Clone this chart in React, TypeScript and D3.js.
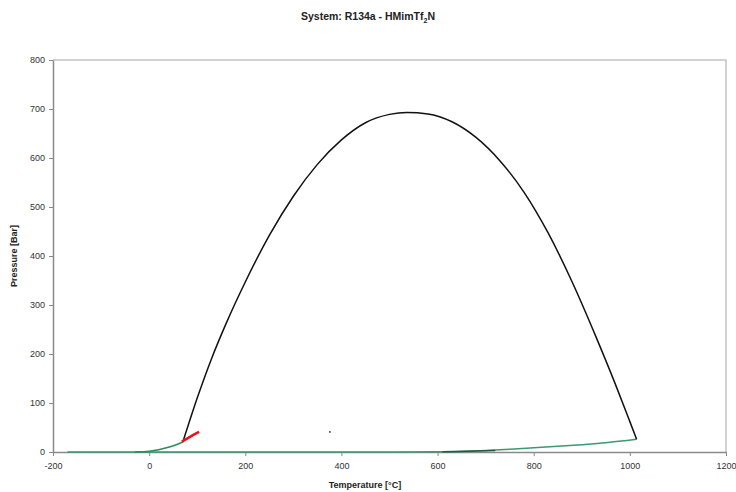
import React, { useEffect, useRef } from 'react';
import { select, scaleLinear, axisBottom, axisLeft, line, curveMonotoneX } from 'd3';

const envT = [71, 100, 130, 160, 200, 250, 300, 350, 400, 450, 500, 536, 580, 630, 680, 730, 780, 830, 880, 930, 970, 1000, 1014];
const envP = [23, 110, 191, 262, 347, 442, 522, 587, 637, 672, 689, 693, 690, 674, 642, 594, 530, 447, 347, 234, 138, 62, 26];

const vapT = [-170, 0, 200, 400, 600, 650, 700, 750, 800, 850, 900, 950, 1014];
const vapP = [0, 0, 0, 0, 0.3, 1.2, 3, 5.5, 8.5, 11.5, 15, 19, 26];

const liqT = [-30, 0, 20, 40, 55, 71];
const liqP = [0, 1.5, 4.5, 9.5, 14.5, 21];

const darkT = [610, 660, 720];
const darkP = [0.4, 1.4, 3.2];

const redT = [68, 85, 104];
const redP = [21, 31, 41];

const dotT = [376];
const dotP = [41];

const xTicks = [-200, 0, 200, 400, 600, 800, 1000, 1200];
const yTicks = [0, 100, 200, 300, 400, 500, 600, 700, 800];

const W = 736;
const H = 492;
const M = { left: 53, right: 10, top: 60, bottom: 40 };

const zip = (t: number[], p: number[]) => t.map((d, i) => [d, p[i]] as [number, number]);

export default function App() {
  const svgRef = useRef<SVGSVGElement>(null);

  useEffect(() => {
    const svg = select(svgRef.current);
    svg.selectAll('*').remove();

    const x = scaleLinear().domain([-200, 1200]).range([M.left, W - M.right]);
    const y = scaleLinear().domain([0, 800]).range([H - M.bottom, M.top]);

    // plot frame (top and right)
    svg
      .append('path')
      .attr('d', `M${x(-200)},${y(800)}H${x(1200)}V${y(0)}`)
      .attr('fill', 'none')
      .attr('stroke', '#c4c4c4')
      .attr('stroke-width', 1.5);

    const font = 'Arial, "Liberation Sans", sans-serif';

    svg
      .append('g')
      .attr('transform', `translate(0,${y(0)})`)
      .call(axisBottom(x).tickValues(xTicks).tickSize(4).tickSizeOuter(0).tickFormat((d) => String(d)))
      .call((g) => g.selectAll('.domain').attr('stroke', '#8a8a8a').attr('stroke-width', 1.5))
      .call((g) => g.selectAll('.tick line').attr('stroke', '#8a8a8a'))
      .call((g) =>
        g.selectAll('.tick text').attr('fill', '#333').attr('font-size', 9).attr('font-family', font).attr('dy', '1.1em')
      );

    svg
      .append('g')
      .attr('transform', `translate(${x(-200)},0)`)
      .call(axisLeft(y).tickValues(yTicks).tickSize(4).tickSizeOuter(0).tickFormat((d) => String(d)))
      .call((g) => g.selectAll('.domain').attr('stroke', '#8a8a8a').attr('stroke-width', 1.5))
      .call((g) => g.selectAll('.tick line').attr('stroke', '#8a8a8a'))
      .call((g) => g.selectAll('.tick text').attr('fill', '#333').attr('font-size', 9).attr('font-family', font).attr('x', -8));

    const ln = line<[number, number]>()
      .x((d) => x(d[0]))
      .y((d) => y(d[1]))
      .curve(curveMonotoneX);

    const series = [
      { pts: zip(vapT, vapP), color: '#3a9a70', w: 1.5 },
      { pts: zip(darkT, darkP), color: '#1f5a40', w: 1.5 },
      { pts: zip(liqT, liqP), color: '#2f8a5e', w: 1.6 },
      { pts: zip(envT, envP), color: '#111', w: 1.5 },
      { pts: zip(redT, redP), color: '#e8141a', w: 2.6 },
    ];

    svg
      .selectAll('path.series')
      .data(series)
      .join('path')
      .attr('class', 'series')
      .attr('d', (s) => ln(s.pts))
      .attr('fill', 'none')
      .attr('stroke', (s) => s.color)
      .attr('stroke-width', (s) => s.w);

    svg
      .selectAll('circle.dot')
      .data(zip(dotT, dotP))
      .join('circle')
      .attr('class', 'dot')
      .attr('cx', (d) => x(d[0]))
      .attr('cy', (d) => y(d[1]))
      .attr('r', 0.9)
      .attr('fill', '#333');

    const title = svg
      .append('text')
      .attr('x', W / 2)
      .attr('y', 20)
      .attr('text-anchor', 'middle')
      .attr('font-family', font)
      .attr('font-weight', 'bold')
      .attr('font-size', 10.5)
      .attr('fill', '#222');
    title.append('tspan').text('System: R134a - HMimTf');
    title.append('tspan').attr('font-size', 7).attr('dy', 3).text('2');
    title.append('tspan').attr('dy', -3).text('N');

    svg
      .append('text')
      .attr('x', 365)
      .attr('y', 488)
      .attr('text-anchor', 'middle')
      .attr('font-family', font)
      .attr('font-weight', 'bold')
      .attr('font-size', 9)
      .attr('fill', '#222')
      .text('Temperature [°C]');

    svg
      .append('text')
      .attr('transform', `translate(17,${(y(0) + y(800)) / 2}) rotate(-90)`)
      .attr('text-anchor', 'middle')
      .attr('font-family', font)
      .attr('font-weight', 'bold')
      .attr('font-size', 9)
      .attr('fill', '#222')
      .text('Pressure [Bar]');
  }, []);

  return (
    <div style={{ position: 'absolute', left: 0, top: 0 }}>
      <svg ref={svgRef} width={W} height={H} style={{ display: 'block', background: '#fff' }} />
    </div>
  );
}
